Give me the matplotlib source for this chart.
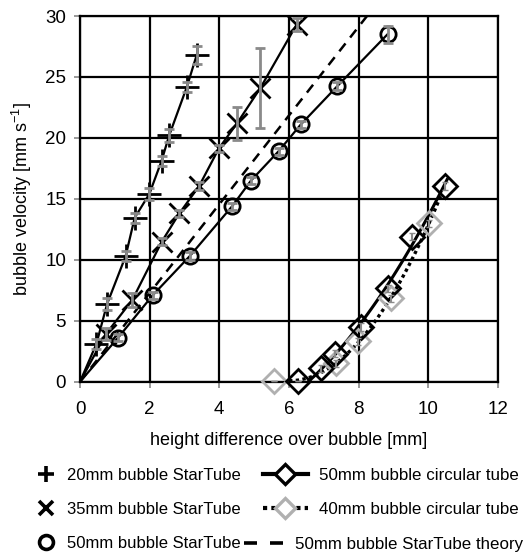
import numpy as np
import matplotlib
matplotlib.use("Agg")
import matplotlib.pyplot as plt
from matplotlib.lines import Line2D

plt.rcParams['font.family'] = ['Liberation Sans', 'DejaVu Sans']
plt.rcParams['mathtext.fontset'] = 'custom'
plt.rcParams['mathtext.rm'] = 'Liberation Sans'
plt.rcParams['mathtext.default'] = 'regular'

# 20mm bubble StarTube
x20 = [0.47, 0.78, 1.31, 1.57, 1.99, 2.34, 2.56, 3.07, 3.35]
y20 = [3.1, 6.4, 10.3, 13.45, 15.4, 18.1, 20.2, 24.2, 26.8]
e20 = [0.4, 0.5, 0.4, 0.4, 0.5, 0.4, 0.5, 0.4, 0.7]

# 35mm bubble StarTube
x35 = [0.74, 1.50, 2.35, 2.85, 3.42, 3.99, 4.51, 5.18, 6.22]
y35 = [3.9, 6.7, 11.5, 13.8, 16.05, 19.15, 21.2, 24.1, 29.3]
e35 = [0.5, 0.6, 0.3, 0.3, 0.3, 0.3, 1.35, 3.3, 0.5]

# 50mm bubble StarTube
x50 = [1.09, 2.09, 3.15, 4.37, 4.91, 5.70, 6.34, 7.39, 8.83]
y50 = [3.6, 7.1, 10.3, 14.4, 16.5, 18.9, 21.1, 24.25, 28.5]
e50 = [0.3, 0.3, 0.3, 0.3, 0.3, 0.3, 0.3, 0.3, 0.7]

# 50mm bubble StarTube theory (slope)
theory_slope = 3.64
theory_x = [0, 8.3]

# 50mm bubble circular tube
xc50 = [6.27, 6.93, 7.31, 8.07, 8.83, 9.54, 10.49]
yc50 = [0.05, 1.1, 2.3, 4.5, 7.66, 11.9, 16.05]
ec50 = [0.0, 0.3, 0.3, 0.3, 0.3, 0.3, 0.3]

# 40mm bubble circular tube
xc40 = [5.56, 7.36, 7.98, 8.93, 10.02]
yc40 = [0.05, 1.5, 3.3, 6.85, 13.0]
ec40 = [0.0, 0.3, 0.3, 0.3, 0.3]

fig = plt.figure(figsize=(5.23, 5.52), dpi=100)
ax = fig.add_axes([0.153, 0.3085, 0.799, 0.6625])

gray = '#8a8a8a'
lgray = '#b0b0b0'

# star tube series: lines from origin through points
for xs, ys in [(x20, y20), (x35, y35), (x50, y50)]:
    ax.plot(np.r_[0, xs], np.r_[0, ys], color='black', lw=1.6, zorder=3)

ax.plot(x20, y20, ls='none', marker='+', ms=17, mew=2, color='black', zorder=4)
ax.plot(x35, y35, ls='none', marker='x', ms=15, mew=2, color='black', zorder=4)
ax.plot(x50, y50, ls='none', marker='o', ms=11, mew=2, mfc='none', mec='black', zorder=4)

ek = dict(fmt='none', ecolor=gray, elinewidth=2, capsize=3.5, capthick=2, zorder=5)
ax.errorbar(x20, y20, yerr=e20, **ek)
ax.errorbar(x35, y35, yerr=e35, **ek)
ax.errorbar(x50, y50, yerr=e50, **ek)

# theory line
tx = np.array(theory_x)
ax.plot(tx, theory_slope * tx, color='black', lw=1.8, ls=(0, (4, 3)), zorder=3)

# circular tube trendlines (quadratic fit of non-zero points)
c = np.polyfit(xc50[1:], yc50[1:], 2)
r = max(np.roots(c).real)
xx = np.linspace(r, xc50[-1] + 0.05, 50)
ax.plot(xx, np.polyval(c, xx), color='black', lw=2.2, zorder=3)

c2 = np.polyfit(xc40[1:], yc40[1:], 2)
r2 = max(np.roots(c2).real)
xx2 = np.linspace(r2, xc40[-1] + 0.35, 50)
ax.plot(xx2, np.polyval(c2, xx2), color='black', lw=2.4, ls=(0, (1, 1)), zorder=3)

ax.plot(xc40, yc40, ls='none', marker='D', ms=12, mew=2, mfc='none', mec=lgray, zorder=4, clip_on=False)
ax.plot(xc50, yc50, ls='none', marker='D', ms=12, mew=2, mfc='none', mec='black', zorder=4, clip_on=False)
ax.errorbar(xc50, yc50, yerr=ec50, fmt='none', ecolor=gray, elinewidth=1.5, capsize=2, zorder=5)
ax.errorbar(xc40, yc40, yerr=ec40, fmt='none', ecolor=gray, elinewidth=1.5, capsize=2, zorder=5)

ax.set_xlim(0, 12)
ax.set_ylim(0, 30)
ax.set_xticks(range(0, 13, 2))
ax.set_yticks(range(0, 31, 5))
ax.grid(True, color='black', lw=1.6)
ax.set_axisbelow(True)
for s in ax.spines.values():
    s.set_linewidth(1.6)
ax.tick_params(labelsize=13.5, length=4, width=1.2, color='#888888')
ax.tick_params(axis='x', pad=10)
ax.tick_params(axis='y', pad=6)
ax.set_xlabel('height difference over bubble [mm]', fontsize=13, labelpad=10)
ax.set_ylabel('bubble velocity [mm s$^{-1}$]', fontsize=13, labelpad=8)

# legend, split in three pieces like the original layout
left_h = [
    Line2D([], [], ls='none', marker='+', ms=12, mew=2.6, color='black'),
    Line2D([], [], ls='none', marker='x', ms=10, mew=2.6, color='black'),
    Line2D([], [], ls='none', marker='o', ms=10, mew=2.6, mfc='none', mec='black'),
]
left_l = ['20mm bubble StarTube', '35mm bubble StarTube', '50mm bubble StarTube']
right_h = [
    Line2D([], [], color='black', lw=3, marker='D', ms=10, mew=2.4, mfc='white', mec='black'),
    Line2D([], [], color='black', lw=3, ls=(0, (1, 1)), marker='D', ms=10, mew=2.4, mfc='white', mec=lgray),
]
right_l = ['50mm bubble circular tube', '40mm bubble circular tube']
theo_h = [Line2D([], [], color='black', lw=2.6, ls=(0, (3.6, 3.6)))]
theo_l = ['50mm bubble StarTube theory']

legA = fig.legend(left_h, left_l, loc='upper left', bbox_to_anchor=(33 / 523, 1 - 468 / 552),
                  frameon=False, fontsize=12, handlelength=1.6, handletextpad=0.44,
                  labelspacing=1.14, borderpad=0, borderaxespad=0)
legB = fig.legend(right_h, right_l, loc='upper left', bbox_to_anchor=(263 / 523, 1 - 467.5 / 552),
                  frameon=False, fontsize=12.2, handlelength=2.65, handletextpad=0.64,
                  labelspacing=1.17, borderpad=0, borderaxespad=0)
legC = fig.legend(theo_h, theo_l, loc='upper left', bbox_to_anchor=(244 / 523, 1 - 537 / 552),
                  frameon=False, fontsize=12.2, handlelength=2.3, handletextpad=0.7,
                  borderpad=0, borderaxespad=0)

fig.savefig('out.png', dpi=100)
